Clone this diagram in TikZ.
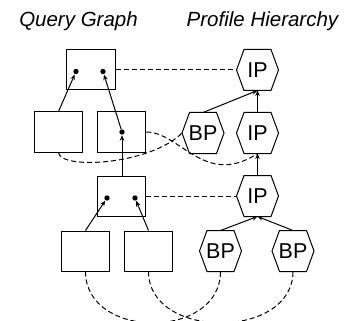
\documentclass[tikz,border=0pt]{standalone}
\usepackage{fontspec}
\setmainfont{Liberation Sans}
\usetikzlibrary{arrows.meta,calc}
\begin{document}
\begin{tikzpicture}[x=1pt,y=-1pt,line width=1pt,
 qbox/.style={draw, minimum width=48.5pt, minimum height=40pt, inner sep=0pt},
 hexn/.style={minimum width=41pt, minimum height=40pt, inner sep=0pt, font=\fontsize{21.5}{24}\selectfont},
 dotn/.style={circle, fill, inner sep=0pt, minimum size=5.4pt},
 arr/.style={-{Stealth[length=5.5pt,width=4.5pt]}},
 dsh/.style={dash pattern=on 5pt off 3pt},
 ttl/.style={font=\fontsize{20.5}{24}\selectfont\itshape, anchor=base, inner sep=0pt}]
\useasboundingbox (0,0) rectangle (344,320);
\clip (0,0) rectangle (344,320);
% titles
\node[ttl] (t1) at (78.5,26.5) {Query Graph};
\node[ttl] (t2) at (262.5,26.5) {Profile Hierarchy};
% query graph boxes
\node[qbox] (q1) at (91,70) {};
\node[qbox] (q2a) at (58.5,132) {};
\node[qbox] (q2b) at (121.5,132) {};
\node[qbox] (q3) at (121.5,196) {};
\node[qbox] (q4a) at (85.5,251) {};
\node[qbox] (q4b) at (148.5,251) {};
% dots
\node[dotn] (d1a) at (76,71.5) {};
\node[dotn] (d1b) at (103,71.5) {};
\node[dotn] (d2b) at (122,132) {};
\node[dotn] (d3a) at (107,198) {};
\node[dotn] (d3b) at (135,198) {};
% hexagon nodes
\node[hexn] (ip1) at (257.5,70) {\raisebox{-1pt}{IP}};
\node[hexn] (bp2) at (203,133) {\raisebox{-1pt}{BP}};
\node[hexn] (ip2) at (257.5,133) {\raisebox{-1pt}{IP}};
\node[hexn] (ip3) at (257.5,196) {\raisebox{-1pt}{IP}};
\node[hexn] (bp4a) at (220.5,251) {\raisebox{-1pt}{BP}};
\node[hexn] (bp4b) at (293,251) {\raisebox{-1pt}{BP}};
\foreach \n in {ip1,bp2,ip2,ip3,bp4a,bp4b}
  \draw (\n.west) -- ($(\n.north west)+(7.5,0)$) -- ($(\n.north east)+(-7.5,0)$) -- (\n.east) -- ($(\n.south east)+(-7.5,0)$) -- ($(\n.south west)+(7.5,0)$) -- cycle;
% query graph arrows
\draw[arr] (q2a.north) -- (d1a);
\draw[arr] (d2b) -- (d1b);
\draw[arr] (q3.north -| d2b) -- (d2b);
\draw[arr] (q4a.north) -- (d3a);
\draw[arr] (q4b.north) -- (d3b);
% profile arrows
\draw[arr] (bp2.north) -- (ip1.south);
\draw[arr] (ip2.north) -- (ip1.south);
\draw[arr] (ip3.north) -- (ip2.south);
\draw[arr] (bp4a.north) -- (ip3.south);
\draw[arr] (bp4b.north) -- (ip3.south);
% dashed correspondences
\draw[dsh] (q1.east) -- (ip1.west);
\draw[dsh] (q3.east) -- (ip3.west);
\draw[dsh] (q2a.south) .. controls (60,170) and (150,165) .. (bp2.west);
\draw[dsh] (q2b.east) .. controls (180,132) and (205,188) .. (ip2.south);
\draw[dsh] (q4a.south) .. controls (85.5,340) and (220.5,340) .. (bp4a.south);
\draw[dsh] (q4b.south) .. controls (148.5,340) and (293,340) .. (bp4b.south);
\end{tikzpicture}
\end{document}
